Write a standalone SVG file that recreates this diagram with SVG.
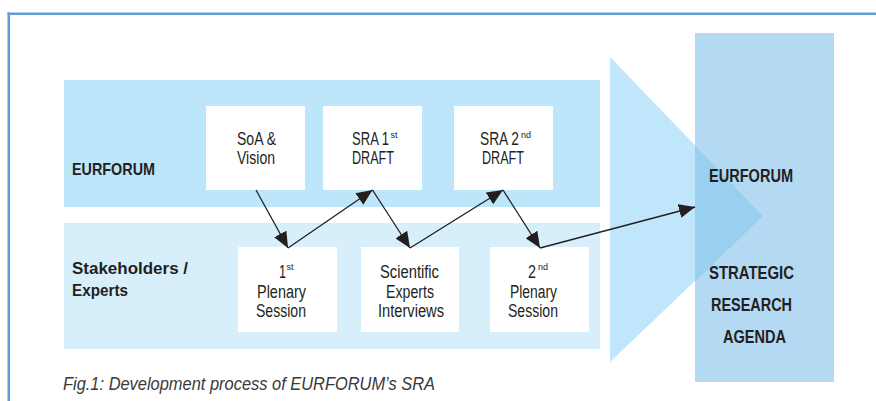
<svg xmlns="http://www.w3.org/2000/svg" width="876" height="401" viewBox="0 0 876 401">
<defs>
<style>
.lbl{font-family:"Liberation Sans",Arial,sans-serif;font-weight:bold;fill:#231f20;}
.bx{font-family:"Liberation Sans",Arial,sans-serif;font-size:18px;fill:#231f20;}
.sup{font-size:9px;}
.box{fill:#ffffff;}
.conn{stroke:#231f20;stroke-width:1.3;fill:none;marker-end:url(#ah);}
</style>
<marker id="ah" markerUnits="userSpaceOnUse" viewBox="0 0 16 14" refX="16" refY="7" markerWidth="16" markerHeight="14" orient="auto">
<path d="M0,0 L16,7 L0,14 z" fill="#231f20"/>
</marker>
</defs>
<rect width="876" height="401" fill="#ffffff"/>
<g id="frame">
<rect x="7.5" y="12.5" width="868.5" height="2.5" fill="#629cd6"/>
<rect x="7.5" y="12.5" width="2.5" height="388.5" fill="#629cd6"/>
</g>
<g id="band-eurforum">
<rect x="64" y="80" width="536" height="127" fill="#bde6fa"/>
<text class="lbl" x="72" y="175" font-size="16.5" textLength="83" lengthAdjust="spacingAndGlyphs">EURFORUM</text>
</g>
<g id="band-stakeholders">
<rect x="64" y="223" width="536" height="126" fill="#d6effb"/>
<text class="lbl" x="72" y="274" font-size="16.5" textLength="116" lengthAdjust="spacingAndGlyphs">Stakeholders /</text>
<text class="lbl" x="72" y="296" font-size="16.5" textLength="56" lengthAdjust="spacingAndGlyphs">Experts</text>
</g>
<g id="sra-target">
<rect x="695" y="33" width="139" height="349" fill="#b4d9f2"/>
<polygon points="610,57 763,216 610,362" fill="#bfe6fa"/>
<polygon points="695,145.3 763,216 695,281.5" fill="#99d0f0"/>
<text class="lbl" x="709" y="182" font-size="18.5" textLength="84" lengthAdjust="spacingAndGlyphs">EURFORUM</text>
<text class="lbl" x="709" y="279" font-size="18.5" textLength="85" lengthAdjust="spacingAndGlyphs">STRATEGIC</text>
<text class="lbl" x="711" y="311" font-size="18.5" textLength="81" lengthAdjust="spacingAndGlyphs">RESEARCH</text>
<text class="lbl" x="723" y="343" font-size="18.5" textLength="63" lengthAdjust="spacingAndGlyphs">AGENDA</text>
</g>
<g id="soa-vision">
<rect class="box" x="206" y="106" width="99" height="84"/>
<text class="bx" x="237" y="145" textLength="39" lengthAdjust="spacingAndGlyphs">SoA &amp;</text>
<text class="bx" x="237" y="163.5" textLength="38" lengthAdjust="spacingAndGlyphs">Vision</text>
</g>
<g id="sra-1st-draft">
<rect class="box" x="323" y="106" width="99" height="84"/>
<text class="bx" x="352" y="145"><tspan textLength="37" lengthAdjust="spacingAndGlyphs">SRA 1</tspan><tspan class="sup" x="390.5" y="138">st</tspan></text>
<text class="bx" x="352" y="163.5" textLength="42" lengthAdjust="spacingAndGlyphs">DRAFT</text>
</g>
<g id="sra-2nd-draft">
<rect class="box" x="454" y="106" width="99" height="84"/>
<text class="bx" x="480" y="145"><tspan textLength="39" lengthAdjust="spacingAndGlyphs">SRA 2</tspan><tspan class="sup" x="521" y="138">nd</tspan></text>
<text class="bx" x="482" y="163.5" textLength="42" lengthAdjust="spacingAndGlyphs">DRAFT</text>
</g>
<g id="plenary-1">
<rect class="box" x="238" y="247" width="99" height="85"/>
<text class="bx" x="279" y="278"><tspan textLength="7" lengthAdjust="spacingAndGlyphs">1</tspan><tspan class="sup" x="286.5" y="270">st</tspan></text>
<text class="bx" x="257" y="297.5" textLength="49" lengthAdjust="spacingAndGlyphs">Plenary</text>
<text class="bx" x="256" y="316.5" textLength="50" lengthAdjust="spacingAndGlyphs">Session</text>
</g>
<g id="expert-interviews">
<rect class="box" x="361" y="247" width="98" height="85"/>
<text class="bx" x="380" y="277.5" textLength="59" lengthAdjust="spacingAndGlyphs">Scientific</text>
<text class="bx" x="386" y="297.5" textLength="48" lengthAdjust="spacingAndGlyphs">Experts</text>
<text class="bx" x="378" y="316.5" textLength="66" lengthAdjust="spacingAndGlyphs">Interviews</text>
</g>
<g id="plenary-2">
<rect class="box" x="490" y="247" width="99" height="85"/>
<text class="bx" x="528" y="278"><tspan textLength="8" lengthAdjust="spacingAndGlyphs">2</tspan><tspan class="sup" x="538" y="270">nd</tspan></text>
<text class="bx" x="510" y="297.5" textLength="47" lengthAdjust="spacingAndGlyphs">Plenary</text>
<text class="bx" x="508" y="316.5" textLength="50" lengthAdjust="spacingAndGlyphs">Session</text>
</g>
<g id="connectors">
<line class="conn" x1="256" y1="190" x2="288" y2="248"/>
<line class="conn" x1="288" y1="248" x2="372.5" y2="190"/>
<line class="conn" x1="372.5" y1="190" x2="410" y2="248"/>
<line class="conn" x1="410" y1="248" x2="503" y2="190"/>
<line class="conn" x1="503" y1="190" x2="540" y2="248"/>
<line class="conn" x1="540" y1="248" x2="695" y2="207"/>
</g>
<g id="caption">
<text x="63" y="390" font-family="'Liberation Sans',Arial,sans-serif" font-style="italic" font-size="18.5" fill="#3a3a3a" textLength="372" lengthAdjust="spacingAndGlyphs">Fig.1: Development process of EURFORUM’s SRA</text>
</g>
</svg>
